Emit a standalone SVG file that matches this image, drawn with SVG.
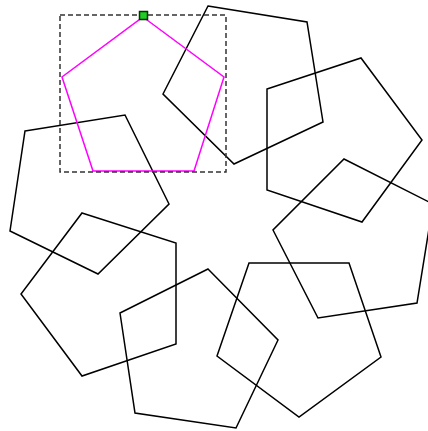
<svg xmlns="http://www.w3.org/2000/svg" width="428" height="431" viewBox="0 0 428 431">
<style>
.p{fill:none;stroke:#000;stroke-width:1.5;stroke-linejoin:miter}
.sel{fill:none;stroke:#ff00ff;stroke-width:1.5}
.box{fill:none;stroke:#333;stroke-width:1.5;stroke-dasharray:5 3}
.h{fill:#22cc22;stroke:#003300;stroke-width:1.5}
</style>
<rect width="428" height="431" fill="#fff"/>
<g id="pent2"><polygon class="p" points="208,6 307,22 323,122 234,164 163,94"/></g>
<g id="pent3"><polygon class="p" points="267,89 361,58 422,140 362,222 267,190"/></g>
<g id="pent4"><polygon class="p" points="344,159 433,204 417,303 318,318 273,230"/></g>
<g id="pent5"><polygon class="p" points="249,263 349,263 381,357 299,417 217,356"/></g>
<g id="pent6"><polygon class="p" points="208,269 278,340 236,428 135,413 120,313"/></g>
<g id="pent7"><polygon class="p" points="82,213 176,243 176,344 82,376 21,294"/></g>
<g id="pent8"><polygon class="p" points="25,131 125,115 169,204 98,274 10,231"/></g>
<g id="pent1">
<polygon class="sel" points="143,17 224,77 194,171 93,171 62,77"/>
<rect class="box" x="60" y="15" width="166" height="157"/>
<rect class="h" x="139.5" y="11.5" width="8" height="8"/>
</g>
</svg>
